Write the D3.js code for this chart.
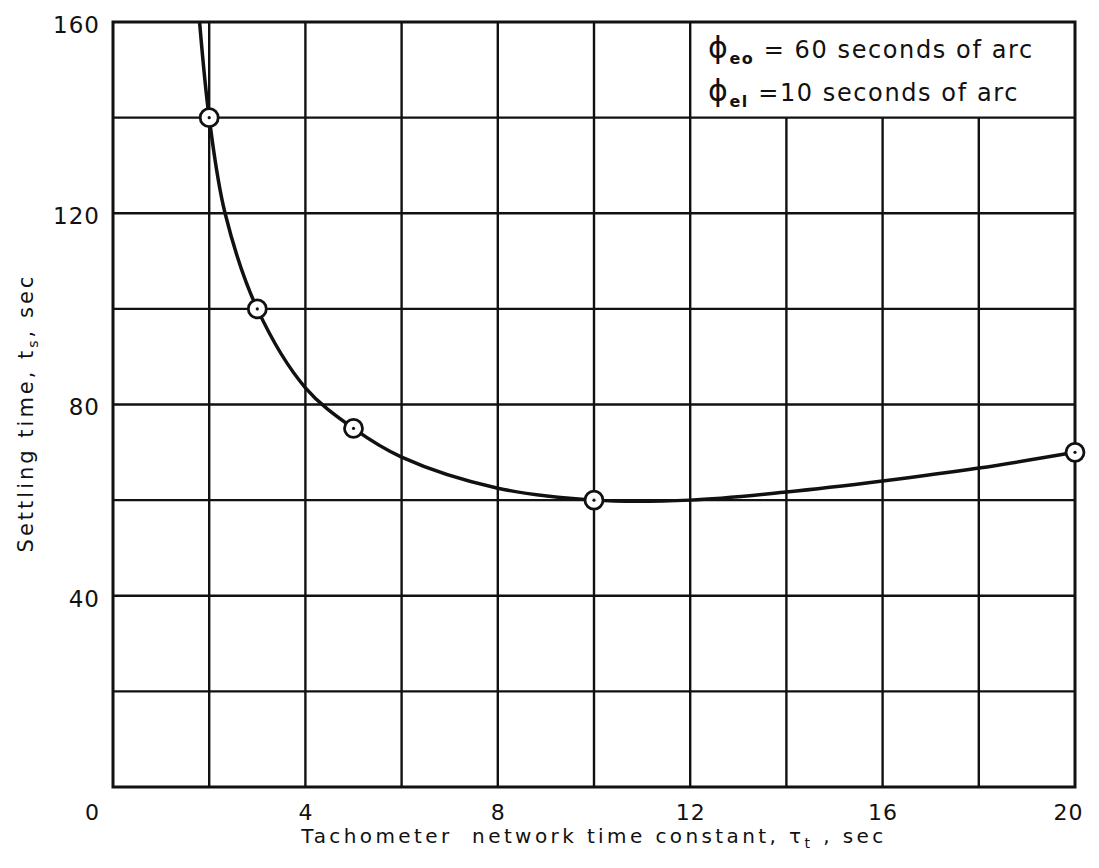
<!DOCTYPE html>
<html>
<head>
<meta charset="utf-8">
<script src="https://cdn.jsdelivr.net/npm/d3@7"></script>
<style>
  html, body { margin: 0; padding: 0; background: #fff; }
  svg { display: block; }
  text { font-family: "DejaVu Sans", sans-serif; fill: #111; }
</style>
</head>
<body>
<svg id="chart" width="1099" height="868"></svg>
<script>
// Measured settling time versus tachometer network time constant
const tauPoints = [2, 3, 5, 10, 20];
const settlePoints = [140, 100, 75, 60, 70];

// Faired curve through the measured points
const curveTau = [1.8, 2, 2.33, 3, 4, 5, 6, 8, 10, 12, 14, 16, 18, 20];
const curveSettle = [160, 140, 120, 100, 83.5, 75, 69, 62.5, 60, 60, 61.7, 64, 66.7, 70];

const xTickLabels = [0, 4, 8, 12, 16, 20];
const yTickLabels = [40, 80, 120, 160];
const xGrid = d3.range(0, 21, 2);
const yGrid = d3.range(0, 161, 20);

// Grid lines hidden behind the parameter note in the upper right
const noteXMin = 12;
const noteYMin = 140;

const svg = d3.select("#chart");
const x = d3.scaleLinear().domain([0, 20]).range([113, 1075]);
const y = d3.scaleLinear().domain([0, 160]).range([787, 22]);

const ink = "#111";

// Grid
const grid = svg.append("g").attr("stroke", ink).attr("stroke-width", 2.4);
grid.selectAll("line.v").data(xGrid.filter(d => d > 0 && d < 20)).join("line")
  .attr("class", "v")
  .attr("x1", d => x(d)).attr("x2", d => x(d))
  .attr("y1", y(0))
  .attr("y2", d => d > noteXMin ? y(noteYMin) : y(160));
grid.selectAll("line.h").data(yGrid.filter(d => d > 0 && d < 160)).join("line")
  .attr("class", "h")
  .attr("x1", x(0)).attr("x2", x(20))
  .attr("y1", d => y(d)).attr("y2", d => y(d));

// Frame
svg.append("rect")
  .attr("x", x(0)).attr("y", y(160))
  .attr("width", x(20) - x(0)).attr("height", y(0) - y(160))
  .attr("fill", "none").attr("stroke", ink).attr("stroke-width", 3);

// Axes (labels only; the grid carries the ticks)
const xAxis = d3.axisBottom(x).tickValues(xTickLabels).tickSize(0).tickPadding(17).tickFormat(d3.format("d"));
const gx = svg.append("g").attr("transform", `translate(0,${y(0)})`).call(xAxis);
gx.select(".domain").remove();
gx.selectAll("text").attr("font-size", 22).attr("fill", ink)
  .attr("font-family", "DejaVu Sans, sans-serif").attr("letter-spacing", 1)
  .attr("dx", d => d === 0 ? -21 : (d === 20 ? -7 : 0));

const yAxis = d3.axisLeft(y).tickValues(yTickLabels).tickSize(0).tickPadding(13).tickFormat(d3.format("d"));
const gy = svg.append("g").attr("transform", `translate(${x(0)},0)`).call(yAxis);
gy.select(".domain").remove();
gy.selectAll("text").attr("font-size", 23).attr("fill", ink)
  .attr("font-family", "DejaVu Sans, sans-serif").attr("letter-spacing", 1)
  .attr("dy", "0.45em");

// Axis titles
const xt = svg.append("text")
  .attr("x", 594).attr("y", 843)
  .attr("text-anchor", "middle").attr("font-size", 20).attr("letter-spacing", 3.4)
  .attr("xml:space", "preserve");
xt.append("tspan").text("Tachometer  network time constant, τ");
xt.append("tspan").attr("font-size", 14).attr("dy", 5).text("t");
xt.append("tspan").attr("dy", -5).text(" , sec");

const yt = svg.append("text")
  .attr("transform", "translate(33,413) rotate(-90)")
  .attr("text-anchor", "middle").attr("font-size", 21).attr("letter-spacing", 3);
yt.append("tspan").text("Settling time, t");
yt.append("tspan").attr("font-size", 14).attr("dy", 5).text("s");
yt.append("tspan").attr("dy", -5).text(", sec");

// Parameter note
const note = svg.append("g").attr("font-size", 24).attr("letter-spacing", 1.6);
const l1 = note.append("text").attr("x", 708).attr("y", 58);
l1.append("tspan").attr("font-size", 30).text("ϕ");
l1.append("tspan").attr("font-size", 16).attr("dy", 6).attr("font-weight", "bold").text("eo");
l1.append("tspan").attr("dy", -6).text(" = 60 seconds of arc");
const l2 = note.append("text").attr("x", 708).attr("y", 101);
l2.append("tspan").attr("font-size", 30).text("ϕ");
l2.append("tspan").attr("font-size", 16).attr("dy", 6).attr("font-weight", "bold").text("el");
l2.append("tspan").attr("dy", -6).text(" =10 seconds of arc");

// Curve
const curveData = curveTau.map((t, i) => [t, curveSettle[i]]);
const line = d3.line().x(d => x(d[0])).y(d => y(d[1])).curve(d3.curveCatmullRom.alpha(0.5));
svg.append("path").datum(curveData)
  .attr("d", line).attr("fill", "none").attr("stroke", ink).attr("stroke-width", 3.5);

// Measured points
const pts = tauPoints.map((t, i) => [t, settlePoints[i]]);
const mk = svg.append("g").selectAll("g").data(pts).join("g")
  .attr("transform", d => `translate(${x(d[0])},${y(d[1])})`);
mk.append("circle").attr("r", 9).attr("fill", "#fff").attr("stroke", ink).attr("stroke-width", 2.8);
mk.append("circle").attr("r", 1.6).attr("fill", ink);
</script>
</body>
</html>
